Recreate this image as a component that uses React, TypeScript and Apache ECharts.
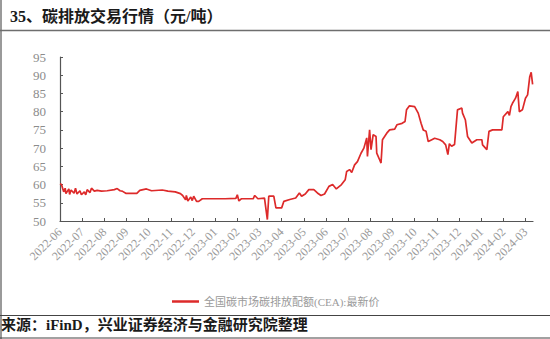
import React, { useEffect, useRef } from "react";
import * as echarts from "echarts";

const seriesName = "全国碳市场碳排放配额(CEA):最新价";
const xLabels = [
  "2022-06", "2022-07", "2022-08", "2022-09", "2022-10", "2022-11", "2022-12",
  "2023-01", "2023-02", "2023-03", "2023-04", "2023-05", "2023-06", "2023-07",
  "2023-08", "2023-09", "2023-10", "2023-11", "2023-12", "2024-01", "2024-02", "2024-03",
];
const yTicks = [50, 55, 60, 65, 70, 75, 80, 85, 90, 95];

const dates = [
  "2022-06-01", "2022-06-03", "2022-06-06", "2022-06-08", "2022-06-09", "2022-06-13", "2022-06-14",
  "2022-06-16", "2022-06-20", "2022-06-22", "2022-06-24", "2022-06-28", "2022-06-30", "2022-07-04",
  "2022-07-06", "2022-07-08", "2022-07-12", "2022-07-14", "2022-07-18", "2022-07-22", "2022-07-28",
  "2022-08-05", "2022-08-15", "2022-08-19", "2022-08-23", "2022-08-26", "2022-08-31", "2022-09-15",
  "2022-09-19", "2022-09-28", "2022-10-05", "2022-10-20", "2022-10-28", "2022-11-07", "2022-11-14",
  "2022-11-17", "2022-11-21", "2022-11-22", "2022-11-24", "2022-11-28", "2022-11-30", "2022-12-02",
  "2022-12-06", "2022-12-09", "2022-12-14", "2022-12-20", "2023-01-15", "2023-01-30", "2023-02-01",
  "2023-02-03", "2023-02-06", "2023-02-21", "2023-02-23", "2023-02-27", "2023-03-08", "2023-03-12",
  "2023-03-14", "2023-03-21", "2023-03-24", "2023-04-01", "2023-04-04", "2023-04-12", "2023-04-20",
  "2023-04-25", "2023-04-28", "2023-05-03", "2023-05-08", "2023-05-15", "2023-05-20", "2023-05-25",
  "2023-05-30", "2023-06-05", "2023-06-10", "2023-06-15", "2023-06-22", "2023-06-27", "2023-06-29",
  "2023-07-03", "2023-07-06", "2023-07-10", "2023-07-14", "2023-07-19", "2023-07-23", "2023-07-27",
  "2023-07-28", "2023-07-31", "2023-08-02", "2023-08-05", "2023-08-09", "2023-08-10", "2023-08-14",
  "2023-08-16", "2023-08-18", "2023-08-24", "2023-08-28", "2023-09-04", "2023-09-07", "2023-09-14",
  "2023-09-18", "2023-09-20", "2023-09-24", "2023-10-01", "2023-10-06", "2023-10-10", "2023-10-13",
  "2023-10-17", "2023-10-20", "2023-10-25", "2023-10-29", "2023-11-05", "2023-11-09", "2023-11-13",
  "2023-11-16", "2023-11-18", "2023-11-21", "2023-11-25", "2023-11-29", "2023-12-05", "2023-12-06",
  "2023-12-10", "2023-12-13", "2023-12-19", "2023-12-26", "2024-01-02", "2024-01-03", "2024-01-09",
  "2024-01-12", "2024-01-17", "2024-01-30", "2024-02-01", "2024-02-07", "2024-02-09", "2024-02-11",
  "2024-02-13", "2024-02-17", "2024-02-20", "2024-02-22", "2024-02-26", "2024-03-01", "2024-03-04",
  "2024-03-07", "2024-03-09", "2024-03-11",
];
const prices = [
  60.2, 60.0, 58.0, 59.0, 57.5, 58.8, 57.3,
  58.5, 57.6, 59.0, 57.4, 58.3, 57.2, 58.0,
  57.2, 58.6, 57.8, 59.0, 58.2, 58.4, 58.2,
  58.3, 58.6, 58.9, 58.3, 58.2, 57.6, 57.6,
  58.4, 58.8, 58.3, 58.5, 58.2, 58.0, 57.5,
  57.0, 55.8, 57.0, 55.5, 56.6, 55.6, 56.8,
  55.4, 55.4, 56.1, 56.1, 56.1, 56.2, 57.2,
  55.5, 56.1, 56.1, 57.0, 56.1, 56.3, 50.4,
  56.8, 56.8, 53.6, 53.6, 55.4, 55.9, 56.3,
  57.7, 56.8, 57.4, 58.6, 58.6, 57.7, 57.0,
  57.4, 59.5, 60.0, 58.8, 60.0, 61.3, 63.6,
  64.1, 63.3, 65.4, 66.3, 68.6, 70.0, 72.8,
  67.7, 75.0, 69.6, 73.7, 73.2, 68.6, 66.8,
  65.9, 72.3, 74.1, 75.0, 75.2, 76.4, 76.8,
  77.3, 80.5, 81.6, 81.4, 79.6, 76.8, 75.0,
  74.6, 71.8, 72.3, 72.7, 72.3, 71.8, 70.9,
  68.2, 71.2, 70.5, 71.0, 80.5, 81.0, 79.6,
  77.7, 73.2, 71.4, 72.3, 72.3, 70.9, 69.6,
  74.6, 75.0, 75.0, 78.6, 80.0, 79.0, 81.4,
  82.3, 83.7, 85.5, 80.0, 80.5, 83.7, 84.6,
  89.6, 90.8, 87.5,
];

// months elapsed since 2022-06-01 (the x axis runs in months, one tick per month)
function monthIndex(s: string): number {
  const [y, m, d] = s.split("-").map(Number);
  const days = new Date(y, m, 0).getDate();
  return (y - 2022) * 12 + (m - 6) + (d - 1) / days;
}

export default function App() {
  const ref = useRef<HTMLDivElement>(null);
  useEffect(() => {
    if (!ref.current) return;
    const chart = echarts.init(ref.current, null, { renderer: "svg" });
    const tickIdx = xLabels.map((_, i) => i);
    const serif = '"Liberation Serif", "Noto Sans CJK SC", serif';
    chart.setOption({
      animation: false,
      backgroundColor: "#ffffff",
      grid: { left: 60, right: 17, top: 57, bottom: 118, containLabel: false },
      legend: {
        left: 167,
        top: 291,
        icon: "rect",
        itemWidth: 27,
        itemHeight: 2.5,
        itemGap: 4,
        textStyle: { color: "#9a9a9a", fontSize: 11, fontFamily: serif },
        data: [seriesName],
      },
      xAxis: {
        type: "value",
        min: 0,
        max: 21.34,
        axisLine: { lineStyle: { color: "#555555", width: 1.2 } },
        axisTick: { inside: true, length: 3, customValues: tickIdx, lineStyle: { color: "#555555" } },
        splitLine: { show: false },
        axisLabel: {
          customValues: tickIdx,
          rotate: 45,
          margin: 9,
          color: "#999999",
          fontSize: 12,
          fontFamily: serif,
          formatter: (v: number) => xLabels[Math.round(v)] ?? "",
        },
      },
      yAxis: {
        type: "value",
        min: yTicks[0],
        max: yTicks[yTicks.length - 1],
        interval: 5,
        axisLine: { show: true, lineStyle: { color: "#555555", width: 1.2 } },
        axisTick: { show: true, inside: true, length: 3, lineStyle: { color: "#555555" } },
        splitLine: { show: false },
        axisLabel: { margin: 14, color: "#8c8c8c", fontSize: 13, fontFamily: serif },
      },
      series: [
        {
          name: seriesName,
          type: "line",
          symbol: "none",
          lineStyle: { color: "#dd2a2a", width: 1.7 },
          itemStyle: { color: "#dd2a2a" },
          data: dates.map((d, i) => [monthIndex(d), prices[i]]),
        },
      ],
      graphic: [
        { type: "rect", left: 0, top: 0, shape: { width: 2, height: 339 }, style: { fill: "#9a9a9a" } },
        { type: "line", shape: { x1: 0, y1: 30.5, x2: 550, y2: 30.5 }, style: { stroke: "#6e6e6e", lineWidth: 1.5 } },
        {
          type: "text",
          left: 10,
          top: 8,
          style: {
            text: "35、碳排放交易行情（元/吨）",
            fill: "#1a1a1a",
            font: 'bold 16px "Liberation Serif", "Noto Sans CJK SC", serif',
          },
        },
        { type: "line", shape: { x1: 0, y1: 315.5, x2: 550, y2: 315.5 }, style: { stroke: "#444444", lineWidth: 1.2 } },
        {
          type: "text",
          left: 1,
          top: 317,
          style: {
            text: "来源：iFinD，兴业证券经济与金融研究院整理",
            fill: "#1a1a1a",
            font: 'bold 15px "Liberation Serif", "Noto Sans CJK SC", serif',
          },
        },
        { type: "line", shape: { x1: 0, y1: 338, x2: 550, y2: 338 }, style: { stroke: "#444444", lineWidth: 1.2 } },
      ],
    });
    return () => chart.dispose();
  }, []);
  return (
    <div
      ref={ref}
      style={{ position: "absolute", left: 0, top: 0, width: 550, height: 339, background: "#fff" }}
    />
  );
}
